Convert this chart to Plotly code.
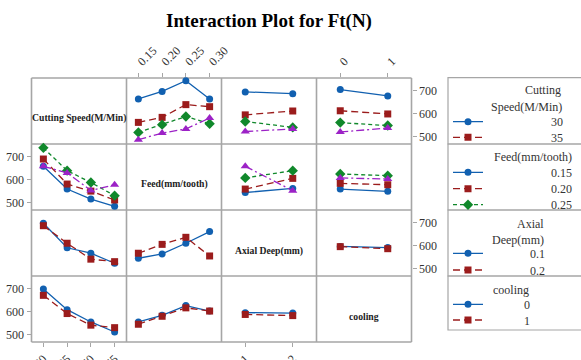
import plotly.graph_objects as go

# ---------------- data ----------------
factor_names = ["Cutting Speed(M/Min)", "Feed(mm/tooth)", "Axial Deep(mm)", "cooling"]
cutting_speed_levels = ["30", "35", "40", "45"]
feed_levels = ["0.15", "0.20", "0.25", "0.30"]
axial_levels = ["0.1", "0.2"]
cooling_levels = ["0", "1"]
y_ticks = [500, 600, 700]

# row = trace factor, col = x factor; one list per level of the trace factor
cs_vs_feed = [[665, 698, 745, 665], [562, 584, 640, 631], [518, 552, 588, 556], [486, 515, 533, 581]]
cs_vs_axial = [[696, 688], [595, 612], [566, 540], [522, 533]]
cs_vs_cooling = [[706, 678], [613, 599], [561, 548], [520, 537]]

feed_vs_cs = [[659, 559, 515, 483], [691, 581, 550, 511], [740, 640, 588, 530], [659, 630, 553, 578]]
feed_vs_axial = [[544, 562], [559, 606], [608, 640], [659, 552]]
feed_vs_cooling = [[559, 549], [584, 578], [625, 618], [608, 603]]

axial_vs_cs = [[699, 591, 567, 523], [688, 611, 541, 530]]
axial_vs_feed = [[545, 564, 611, 662], [567, 606, 637, 555]]
axial_vs_cooling = [[597, 592], [596, 587]]

cooling_vs_cs = [[700, 609, 555, 511], [672, 592, 541, 530]]
cooling_vs_feed = [[555, 584, 627, 603], [545, 580, 617, 603]]
cooling_vs_axial = [[596, 594], [588, 583]]

# ---------------- styling ----------------
W, H = 581, 360
FONT = "Liberation Serif"
colors = ["#1160b0", "#9b1c1c", "#10882b", "#9c22c6"]
symbols = ["circle", "square", "diamond", "triangle-up"]
sizes = [7, 7, 8, 8]
dashes = ["solid", "7px,4px", "4px,3px", "8px,3px,2px,3px"]
grid_col = "#a6a6a6"

col_edges = [31.5, 126.5, 221.5, 316.5, 411.5]
row_edges = [78, 144, 210, 276, 342]
YR = [467, 757]

levels = [cutting_speed_levels, feed_levels, axial_levels, cooling_levels]
panels = {
    (0, 1): cs_vs_feed, (0, 2): cs_vs_axial, (0, 3): cs_vs_cooling,
    (1, 0): feed_vs_cs, (1, 2): feed_vs_axial, (1, 3): feed_vs_cooling,
    (2, 0): axial_vs_cs, (2, 1): axial_vs_feed, (2, 3): axial_vs_cooling,
    (3, 0): cooling_vs_cs, (3, 1): cooling_vs_feed, (3, 2): cooling_vs_axial,
}

# legend entries: (row, level index) -> legend id, item y centre (px)
legend_items = {
    (0, 0): ("legend", 121.7), (0, 1): ("legend2", 137.3),
    (1, 0): ("legend3", 172.3), (1, 1): ("legend4", 188.7), (1, 2): ("legend5", 204.7),
    (2, 0): ("legend6", 253.3), (2, 1): ("legend7", 270.0),
    (3, 0): ("legend8", 304.3), (3, 1): ("legend9", 320.0),
}
# number of no-break spaces used to push the legend labels to the right
legend_pad = {0: 21, 1: 21, 2: 14, 3: 12}
LEG_X = 448

def px(x):
    return x / W

def py(y):
    return 1 - y / H

fig = go.Figure()
layout = dict(
    width=W, height=H, margin=dict(l=0, r=0, t=0, b=0, pad=0, autoexpand=False),
    paper_bgcolor="white", plot_bgcolor="rgba(0,0,0,0)",
    font=dict(family=FONT, size=12, color="#333333"),
    showlegend=True,
)

for r in range(4):
    for c in range(4):
        idx = r * 4 + c + 1
        sfx = "" if idx == 1 else str(idx)
        nx = len(levels[c])
        xa = dict(
            domain=[px(col_edges[c]), px(col_edges[c + 1])],
            anchor="y" + sfx, range=[0.5, nx + 0.5],
            showline=False, showgrid=False, zeroline=False, fixedrange=True,
            tickvals=list(range(1, nx + 1)), ticktext=levels[c],
            showticklabels=False, ticks="", automargin=False,
        )
        ya = dict(
            domain=[py(row_edges[r + 1]), py(row_edges[r])],
            anchor="x" + sfx, range=YR,
            showline=False, showgrid=False, zeroline=False, fixedrange=True,
            tickvals=y_ticks, showticklabels=False, ticks="", automargin=False,
        )
        # x tick labels: col 0,2 bottom (row 3), col 1,3 top (row 0)
        if (c in (0, 2) and r == 3) or (c in (1, 3) and r == 0):
            xa.update(showticklabels=True, ticks="outside", ticklen=4, tickcolor=grid_col,
                      tickwidth=1, tickangle=-45, side="bottom" if r == 3 else "top",
                      tickfont=dict(family=FONT, size=12, color="#333333"))
        # y tick labels: rows 1,3 left (col 0), rows 0,2 right (col 3)
        if (r in (1, 3) and c == 0) or (r in (0, 2) and c == 3):
            ya.update(showticklabels=True, ticks="outside", ticklen=4, tickcolor=grid_col,
                      tickwidth=1, side="left" if c == 0 else "right",
                      tickfont=dict(family=FONT, size=12, color="#333333"))
        layout["xaxis" + sfx] = xa
        layout["yaxis" + sfx] = ya

        if (r, c) in panels:
            series = panels[(r, c)]
            for k, vals in enumerate(series):
                leg = legend_items.get((r, k)) if c == (3 if r < 3 else 0) else None
                tr = go.Scatter(
                    x=list(range(1, nx + 1)), y=vals,
                    xaxis="x" + sfx, yaxis="y" + sfx,
                    mode="lines+markers",
                    name="\u00a0" * legend_pad[r] + levels[r][k],
                    line=dict(color=colors[k], width=1.3, dash=dashes[k]),
                    marker=dict(color=colors[k], symbol=symbols[k], size=sizes[k]),
                    showlegend=leg is not None,
                    hoverinfo="skip", cliponaxis=False,
                )
                if leg is not None:
                    tr.update(legend=leg[0])
                fig.add_trace(tr)

# legends (one item each so that spacing matches)
for (r, k), (lid, yc) in legend_items.items():
    layout[lid] = dict(
        x=px(LEG_X), xanchor="left", y=py(yc), yanchor="middle",
        bgcolor="rgba(0,0,0,0)", borderwidth=0,
        font=dict(family=FONT, size=12, color="#333333"),
        itemwidth=30, tracegroupgap=0,
    )

annotations = []
# title
annotations.append(dict(text="<b>Interaction Plot for Ft(N)</b>", x=px(269), y=py(20.5),
                        xref="paper", yref="paper", showarrow=False,
                        xanchor="center", yanchor="middle",
                        font=dict(family=FONT, size=19, color="black")))
# diagonal labels
for i, name in enumerate(factor_names):
    cx = (col_edges[i] + col_edges[i + 1]) / 2
    cy = (row_edges[i] + row_edges[i + 1]) / 2 + 7.5
    annotations.append(dict(text="<b>%s</b>" % name, x=px(cx), y=py(cy),
                            xref="paper", yref="paper", showarrow=False,
                            xanchor="center", yanchor="middle",
                            font=dict(family=FONT, size=9.7, color="#222222")))
# legend titles
leg_titles = [("Cutting", 562.5, 90.0), ("Speed(M/Min)", 563.5, 106.7),
              ("Feed(mm/tooth)", 574.0, 157.3),
              ("Axial", 546.0, 224.0), ("Deep(mm)", 546.0, 240.0),
              ("cooling", 530.5, 290.0)]
for txt, xr, yc in leg_titles:
    annotations.append(dict(text=txt, x=px(xr), y=py(yc), xref="paper", yref="paper",
                            showarrow=False, xanchor="right", yanchor="middle",
                            font=dict(family=FONT, size=12, color="#333333")))
layout["annotations"] = annotations

shapes = []
# panel grid lines
for xe in col_edges:
    shapes.append(dict(type="line", xref="paper", yref="paper",
                       x0=px(xe), x1=px(xe), y0=py(row_edges[-1]), y1=py(row_edges[0]),
                       line=dict(color=grid_col, width=1.6), layer="below"))
for ye in row_edges:
    shapes.append(dict(type="line", xref="paper", yref="paper",
                       x0=px(col_edges[0]), x1=px(col_edges[-1]), y0=py(ye), y1=py(ye),
                       line=dict(color=grid_col, width=1.6), layer="below"))
# legend boxes
box_edges = [77.7, 144, 210, 276, 330]
for i in range(4):
    shapes.append(dict(type="rect", xref="paper", yref="paper",
                       x0=px(LEG_X), x1=px(W + 10), y0=py(box_edges[i + 1]), y1=py(box_edges[i]),
                       line=dict(color=grid_col, width=1.2), fillcolor="rgba(0,0,0,0)"))
layout["shapes"] = shapes

fig.update_layout(**layout)
fig.write_html("out.html")
